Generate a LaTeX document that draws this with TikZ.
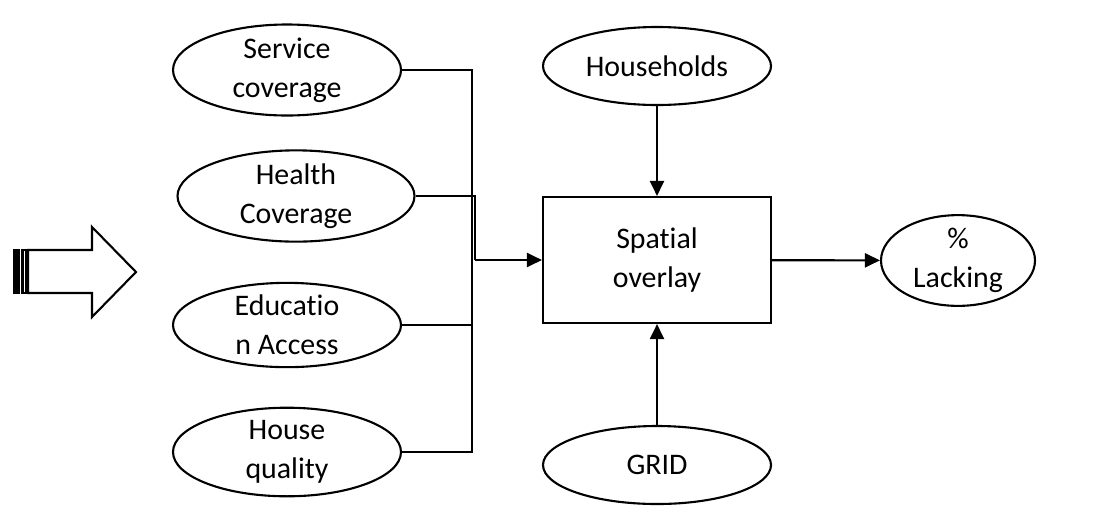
\documentclass[tikz,border=0pt]{standalone}
\usepackage{fontspec}
\setmainfont{Carlito}[Ligatures=NoCommon]
\usetikzlibrary{shapes.geometric,arrows.meta}
\begin{document}
\begin{tikzpicture}[font=\fontsize{17}{22}\selectfont, line width=1.2pt,
  oval/.style={draw, ellipse, align=center, inner sep=0pt, minimum width=4.56cm, minimum height=1.54cm},
  arr/.style={-{Triangle[length=3mm,width=2.8mm]}}]
\useasboundingbox (0,0) rectangle (21.98,-10.30);
\node[oval] (serv) at (5.74,-1.40) {Service\\coverage};
\node[oval, minimum width=4.74cm] (health) at (5.92,-3.92) {Health\\Coverage};
\node[oval] (educ) at (5.74,-6.50) {Educatio\\n Access};
\node[oval] (house) at (5.74,-9.04) {House\\quality};
\node[oval, minimum height=1.56cm] (hh) at (13.14,-1.32) {Households};
\node[oval, minimum height=1.56cm] (grid) at (13.14,-9.30) {GRID};
\node[draw, align=center, minimum width=4.56cm, minimum height=2.52cm] (box) at (13.14,-5.20) {Spatial\\overlay};
\node[oval, minimum width=3.08cm, minimum height=1.70cm] (lack) at (19.16,-5.21) {\%\\Lacking};
\coordinate (bus) at (9.44,-9.06);
\coordinate (merge) at (9.50,-5.20);
\draw (serv.east) -| (bus);
\draw (educ.east) -- (educ.east -| bus);
\draw (house.east) -- (house.east -| bus);
\draw (health.east) -| (merge);
\draw[arr] (merge) -- (box.west);
\draw[arr] (hh) -- (box);
\draw[arr] (grid) -- (box);
\draw[arr] (box) -- (lack);
% striped arrow on the left
\draw (0.56,-5.00) -- (1.84,-5.00) -- (1.84,-4.54) -- (2.72,-5.44) -- (1.84,-6.34) -- (1.84,-5.86) -- (0.56,-5.86) -- cycle;
\draw[fill=black] (0.29,-5.00) rectangle (0.38,-5.86);
\draw (0.45,-5.00) rectangle (0.52,-5.86);
\end{tikzpicture}
\end{document}
